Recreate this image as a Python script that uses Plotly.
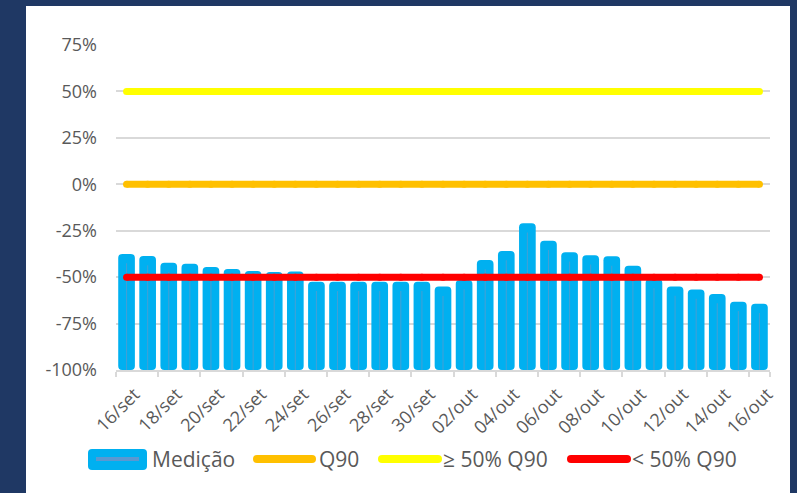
import plotly.graph_objects as go

# ---- data ----
dates = ["16/set", "17/set", "18/set", "19/set", "20/set", "21/set", "22/set", "23/set",
         "24/set", "25/set", "26/set", "27/set", "28/set", "29/set", "30/set",
         "01/out", "02/out", "03/out", "04/out", "05/out", "06/out", "07/out", "08/out",
         "09/out", "10/out", "11/out", "12/out", "13/out", "14/out", "15/out", "16/out"]
medicao = [-37.5, -38.6, -42.2, -42.8, -44.5, -45.6, -46.7, -47.2,
           -46.9, -52.5, -52.5, -52.5, -52.5, -52.5, -52.5,
           -55.1, -51.5, -40.8, -35.9, -21.0, -30.4, -36.6, -38.2,
           -38.8, -43.8, -51.0, -55.0, -56.6, -59.1, -63.2, -64.3]
q90 = [0] * len(dates)
ge50 = [50] * len(dates)
lt50 = [-50] * len(dates)
y_ticks = [-100, -75, -50, -25, 0, 25, 50, 75]
y_ticktext = [f"{v}%" for v in y_ticks]
base_value = -100
series_names = ["Medição", "Q90", "≥ 50% Q90", "< 50% Q90"]

NAVY = "#1F3864"
TXT = "#595959"
GRID = "#D9D9D9"
FONT = "Open Sans"
C_BAR = "#00B0F0"
C_Q90 = "#FFC000"
C_GE = "#FFFF00"
C_LT = "#FF0000"
C_INNER = "rgba(110,150,195,0.6)"

fig = go.Figure()

# bars (from the -100% floor up to the measured value)
fig.add_trace(go.Bar(
    x=dates, y=[v - base_value for v in medicao], base=base_value,
    width=0.79, marker=dict(color=C_BAR, line=dict(width=0), cornerradius=4),
    name=series_names[0], showlegend=False, hoverinfo="skip"))
# thin inner line in each bar
fig.add_trace(go.Bar(
    x=dates, y=[v - base_value - 5 for v in medicao], base=base_value,
    width=0.05, marker=dict(color=C_INNER, line=dict(width=0)),
    showlegend=False, hoverinfo="skip"))

for vals, name, col in [(q90, series_names[1], C_Q90),
                        (ge50, series_names[2], C_GE),
                        (lt50, series_names[3], C_LT)]:
    fig.add_trace(go.Scatter(
        x=dates, y=vals, mode="lines+markers", name=name, showlegend=False,
        line=dict(color=col, width=7), marker=dict(color=col, size=7),
        hoverinfo="skip"))

W, H = 797, 493
L, R, T, B = 116, 27, 45, 123
pw, ph = W - L - R, H - T - B

def px_x(p):
    return (p - L) / pw

def px_y(p):
    return (H - B - p) / ph

# white panel on navy background
fig.add_shape(type="rect", xref="paper", yref="paper",
              x0=px_x(26), x1=px_x(790), y0=px_y(493), y1=px_y(6),
              fillcolor="white", line=dict(width=0), layer="below")

# ---- legend (drawn as decoration) ----
LY = 459
# Medição: rounded blue box with inner line
bx0, bx1, by0, by1, rr = 88, 147, 449, 470, 4
def P(x, y):
    return f"{px_x(x):.5f},{px_y(y):.5f}"
path = (f"M{P(bx0 + rr, by0)} L{P(bx1 - rr, by0)} Q{P(bx1, by0)} {P(bx1, by0 + rr)} "
        f"L{P(bx1, by1 - rr)} Q{P(bx1, by1)} {P(bx1 - rr, by1)} "
        f"L{P(bx0 + rr, by1)} Q{P(bx0, by1)} {P(bx0, by1 - rr)} "
        f"L{P(bx0, by0 + rr)} Q{P(bx0, by0)} {P(bx0 + rr, by0)} Z")
fig.add_shape(type="path", xref="paper", yref="paper", path=path,
              fillcolor=C_BAR, line=dict(width=0))
fig.add_shape(type="line", xref="paper", yref="paper",
              x0=px_x(96), x1=px_x(139), y0=px_y(LY), y1=px_y(LY),
              line=dict(color="rgba(100,150,205,0.9)", width=4))

legend_items = [
    (series_names[0], None, None, 150),
    (series_names[1], C_Q90, (257, 312), 317),
    (series_names[2], C_GE, (382, 438), 441),
    (series_names[3], C_LT, (571, 627), 630),
]
for name, col, seg, tx in legend_items:
    if seg is not None:
        a, b = seg
        fig.add_shape(type="line", xref="paper", yref="paper",
                      x0=px_x(a), x1=px_x(b), y0=px_y(LY), y1=px_y(LY),
                      line=dict(color=col, width=8))
        for cx in (a, b):
            fig.add_shape(type="circle", xref="paper", yref="paper",
                          x0=px_x(cx - 4), x1=px_x(cx + 4),
                          y0=px_y(LY + 4), y1=px_y(LY - 4),
                          fillcolor=col, line=dict(width=0))
    fig.add_annotation(xref="paper", yref="paper", x=px_x(tx), y=px_y(LY),
                       xanchor="left", yanchor="middle", showarrow=False,
                       text=name, font=dict(family=FONT, size=21, color=TXT))

fig.update_layout(
    width=W, height=H,
    margin=dict(l=L, r=R, t=T, b=B),
    paper_bgcolor=NAVY, plot_bgcolor="white",
    barmode="overlay", showlegend=False,
    font=dict(family=FONT, color=TXT, size=18),
    xaxis=dict(
        type="category", tickmode="array", tickvals=dates[::2], ticktext=dates[::2],
        tickangle=-45, tickson="boundaries", ticks="outside", ticklen=5,
        tickcolor=GRID, tickwidth=1.5, showgrid=False,
        showline=True, linecolor=GRID, linewidth=1.5,
        ticklabelshift=8, ticklabelstandoff=5,
        tickfont=dict(family=FONT, size=18, color=TXT),
        range=[-0.5, len(dates) - 0.5]),
    yaxis=dict(
        range=[-100, 75], tickmode="array", tickvals=y_ticks, ticktext=y_ticktext,
        showgrid=True, gridcolor=GRID, gridwidth=1.5, zeroline=False,
        showline=False, ticks="", ticklabelstandoff=18,
        tickfont=dict(family=FONT, size=18, color=TXT)),
)

fig.write_html("out.html", config={"displayModeBar": False},
               post_script="document.body.style.margin='0';document.body.style.overflow='hidden';")
